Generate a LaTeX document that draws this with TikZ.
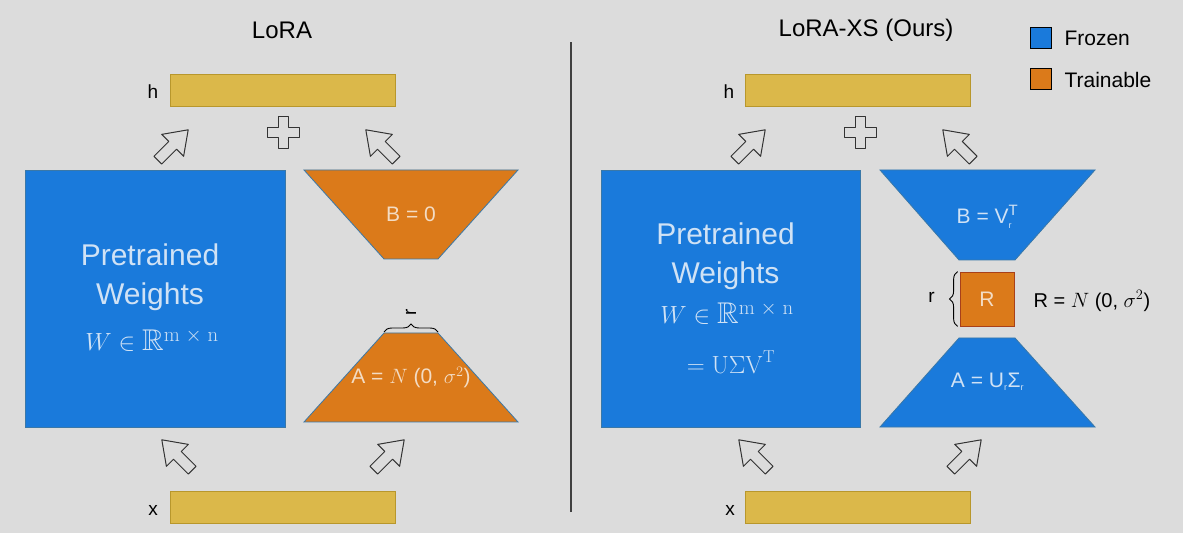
\documentclass[tikz,border=0pt]{standalone}
\usepackage{amssymb}
\usepackage[no-math]{fontspec}
\setmainfont{Liberation Sans}
\usetikzlibrary{decorations.pathreplacing, calc}

\definecolor{bg}{HTML}{DCDCDC}
\definecolor{frozen}{HTML}{1A7ADB}
\definecolor{frozenedge}{HTML}{3A78A8}
\definecolor{frozentext}{HTML}{D0E2F5}
\definecolor{trainable}{HTML}{DB7A1A}
\definecolor{trainedge}{HTML}{A8401A}
\definecolor{traintext}{HTML}{F3DCC4}
\definecolor{vecfill}{HTML}{DBB84A}
\definecolor{vecedge}{HTML}{B8972C}

\begin{document}
\begin{tikzpicture}[
        x=1pt, y=1pt,
        frozen_style/.style={rectangle, draw=frozenedge, fill=frozen, line width=0.8pt, inner sep=0pt},
        trainable_style/.style={rectangle, draw=trainedge, fill=trainable, line width=0.8pt, inner sep=0pt},
        trap_style/.style={draw=frozenedge, line width=0.8pt, line join=miter},
        vec_style/.style={rectangle, draw=vecedge, fill=vecfill, line width=0.8pt, minimum width=225pt, minimum height=32pt, inner sep=0pt},
        label_style/.style={font=\fontsize{19}{22}\selectfont, text=black},
        inner_text/.style={font=\fontsize{21}{25}\selectfont},
        weight_text/.style={font=\fontsize{30}{39}\selectfont, text=frozentext, align=center},
        title_style/.style={font=\fontsize{24}{28}\selectfont},
        legend_box/.style={rectangle, draw=black, line width=1pt, minimum size=21pt, inner sep=0pt},
        brace_style/.style={decorate, decoration={brace, amplitude=8pt}, line width=0.9pt},
        hollow_arrow/.pic={
            \draw[draw=black!80, fill=bg, line width=1pt, line join=round]
                (-5.5,-21.5) -- (5.5,-21.5) -- (5.5,-0.5) -- (15.5,-0.5) -- (0,21.5) -- (-15.5,-0.5) -- (-5.5,-0.5) -- cycle;
        },
        plus_sign/.pic={
            \draw[draw=black!80, fill=bg, line width=1pt, line join=round]
                (-5,16) -- (5,16) -- (5,5) -- (16,5) -- (16,-5) -- (5,-5) -- (5,-16) -- (-5,-16) -- (-5,-5) -- (-16,-5) -- (-16,5) -- (-5,5) -- cycle;
        }
    ]

    \fill[bg] (0,0) rectangle (1183,533);
    \useasboundingbox (0,0) rectangle (1183,533);

    % titles and divider
    \node[title_style] (title_lora) at (282,503) {LoRA};
    \node[title_style] (title_xs) at (866,503) {LoRA-XS (Ours)};
    \draw[line width=2pt, black!75] (571,21) -- (571,491);

    % legend
    \node[legend_box, fill=frozen] (leg_frozen) at (1041,495) {};
    \node[inner_text, anchor=west] (leg_frozen_txt) at (1061,495) {Frozen};
    \node[legend_box, fill=trainable] (leg_train) at (1041,454) {};
    \node[inner_text, anchor=west] (leg_train_txt) at (1061,453) {Trainable};

    % LoRA (left)
    \node[vec_style] (h_l) at (282.5,443) {};
    \node[label_style] (h_l_lbl) at (153,441) {h};
    \node[vec_style] (x_l) at (282.5,26) {};
    \node[label_style] (x_l_lbl) at (153,23) {x};

    \node[frozen_style, minimum width=260pt, minimum height=257pt] (w_l) at (155,234.5) {};
    \node[weight_text] (w_l_txt) at (150,256) {Pretrained\\Weights};
    \node[weight_text] (w_l_math) at (152,193) {$W \in \mathbb{R}^{\mathrm{m}\;\times\;\mathrm{n}}$};

    \draw[trap_style, fill=trainable] (304,363) -- (518,363) -- (438,274) -- (384,274) -- cycle;
    \node[inner_text, text=traintext] (b_l) at (411,318.5) {B = 0};
    \coordinate (a_l_tl) at (384,200);
    \coordinate (a_l_tr) at (438,200);
    \draw[trap_style, fill=trainable] (a_l_tl) -- (a_l_tr) -- (518,111) -- (304,111) -- cycle;
    \node[inner_text, text=traintext] (a_l) at (411,155.5) {A = $N$ (0, $\sigma^{2}$)};
    \draw[brace_style] ([yshift=1pt]a_l_tl) -- ([yshift=1pt]a_l_tr);
    \node[label_style, rotate=90] (r_l) at ($(a_l_tl)!0.5!(a_l_tr)+(0,21)$) {r};

    \pic at (283,400) {plus_sign};
    \pic[rotate=-45] at (173,388) {hollow_arrow};
    \pic[rotate=45] at (381,388) {hollow_arrow};
    \pic[rotate=45] at (177,78) {hollow_arrow};
    \pic[rotate=-45] at (389,78) {hollow_arrow};

    % LoRA-XS (right)
    \node[vec_style] (h_r) at (857.5,443) {};
    \node[label_style] (h_r_lbl) at (729,441) {h};
    \node[vec_style] (x_r) at (857.5,26) {};
    \node[label_style] (x_r_lbl) at (730,23) {x};

    \node[frozen_style, minimum width=259pt, minimum height=257pt] (w_r) at (730.5,234.5) {};
    \node[weight_text] (w_r_txt) at (725.5,277) {Pretrained\\Weights};
    \node[weight_text] (w_r_math) at (727,220) {$W \in \mathbb{R}^{\mathrm{m}\;\times\;\mathrm{n}}$};
    \node[weight_text, font=\fontsize{24}{28}\selectfont] (w_r_svd) at (731,171) {$= \mathrm{U\Sigma V}^{\mathrm{T}}$};

    \draw[trap_style, fill=frozen] (880,363) -- (1095,363) -- (1015,273) -- (959,273) -- cycle;
    \node[inner_text, text=frozentext] (b_r) at (987.5,316) {B = V$_{\mbox{\fontsize{9}{9}\selectfont r}}^{\mbox{\fontsize{15}{15}\selectfont T}}$};
    \node[trainable_style, minimum size=54pt, inner_text, text=traintext] (r_box) at (987,234) {R};
    \draw[trap_style, fill=frozen] (959,195) -- (1015,195) -- (1095,106) -- (880,106) -- cycle;
    \node[inner_text, text=frozentext] (a_r) at (987.5,151) {A = U$_{\mbox{\fontsize{9}{9}\selectfont r}}$Σ$_{\mbox{\fontsize{9}{9}\selectfont r}}$};
    \draw[brace_style] ([xshift=-2pt]r_box.south west) -- ([xshift=-2pt]r_box.north west);
    \node[label_style] (r_r) at ($(r_box.west)+(-28,2)$) {r};
    \node[inner_text, font=\fontsize{20}{24}\selectfont, anchor=west] (r_dist) at (1030,232) {R = $N$ (0, $\sigma^{2}$)};

    \pic at (860,400) {plus_sign};
    \pic[rotate=-45] at (750,388) {hollow_arrow};
    \pic[rotate=45] at (958,388) {hollow_arrow};
    \pic[rotate=45] at (754,78) {hollow_arrow};
    \pic[rotate=-45] at (966,78) {hollow_arrow};

\end{tikzpicture}
\end{document}
